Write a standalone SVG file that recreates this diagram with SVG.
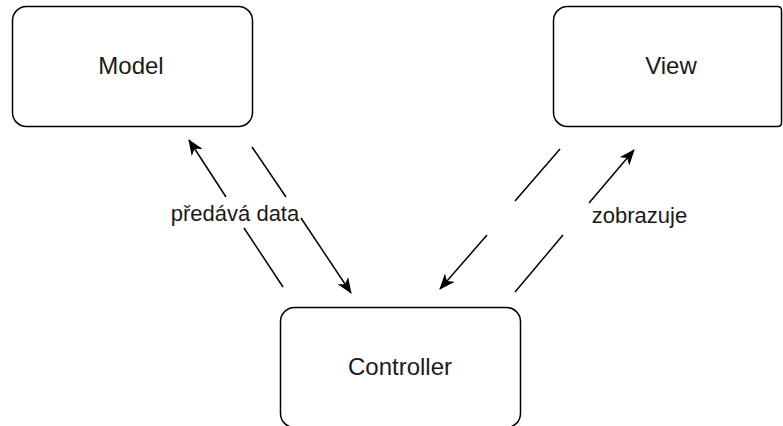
<svg xmlns="http://www.w3.org/2000/svg" width="783" height="426" viewBox="0 0 783 426">
  <style>
    .box { fill: #ffffff; stroke: #000000; stroke-width: 1.5; }
    .node-text { font-family: "Liberation Sans", Arial, Helvetica, sans-serif; font-size: 24px; fill: #1a1a1a; text-anchor: middle; }
    .label { font-family: "Liberation Sans", Arial, Helvetica, sans-serif; font-size: 22px; fill: #1a1a1a; text-anchor: middle; }
    .conn { fill: none; stroke: #000000; stroke-width: 1.5; }
  </style>
  <defs>
    <marker id="arrow" viewBox="0 0 16 13" refX="15" refY="6.5" markerWidth="16" markerHeight="13" markerUnits="userSpaceOnUse" orient="auto">
      <path d="M0,0 L16,6.5 L0,13 L4.5,6.5 Z" fill="#000000"/>
    </marker>
  </defs>
  <rect width="783" height="426" fill="#ffffff"/>

  <g id="model">
    <rect class="box" x="12.5" y="6.5" width="240" height="120" rx="14" ry="14"/>
    <text class="node-text" x="131" y="74">Model</text>
  </g>

  <g id="view">
    <path class="box" d="M567.5,6.5 L777.5,6.5 Q781.5,6.5 781.5,10.5 L781.5,122.5 Q781.5,126.5 777.5,126.5 L567.5,126.5 A14,14 0 0 1 553.5,112.5 L553.5,20.5 A14,14 0 0 1 567.5,6.5 Z"/>
    <text class="node-text" x="671" y="74">View</text>
  </g>

  <g id="controller">
    <rect class="box" x="280.5" y="307.5" width="240" height="120" rx="14" ry="14"/>
    <text class="node-text" x="400" y="375">Controller</text>
  </g>

  <g id="connectors">
    <!-- Controller -> Model -->
    <path class="conn" d="M283,287 L244,228"/>
    <path class="conn" d="M226,197 L189,140" marker-end="url(#arrow)"/>
    <!-- Model -> Controller -->
    <path class="conn" d="M252,147 L286,197"/>
    <path class="conn" d="M301,218 L351,293" marker-end="url(#arrow)"/>
    <text class="label" x="235" y="221">předává data</text>
    <!-- View -> Controller -->
    <path class="conn" d="M560,149 L515,201"/>
    <path class="conn" d="M487,235 L440,289" marker-end="url(#arrow)"/>
    <!-- Controller -> View -->
    <path class="conn" d="M515,292 L563,235"/>
    <path class="conn" d="M589,203 L634,150" marker-end="url(#arrow)"/>
    <text class="label" x="639.5" y="223">zobrazuje</text>
  </g>
</svg>
